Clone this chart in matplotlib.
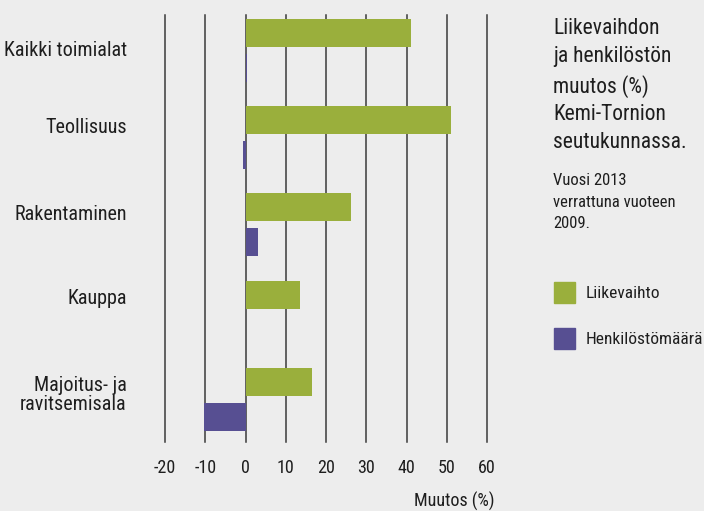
import matplotlib
matplotlib.use("Agg")
import matplotlib.pyplot as plt
from matplotlib.patches import Rectangle
import numpy as np

plt.rcParams['font.family'] = ['Roboto Condensed', 'DejaVu Sans']

categories = ["Kaikki toimialat", "Teollisuus", "Rakentaminen", "Kauppa",
              "Majoitus- ja\nravitsemisala"]
liikevaihto = [41.0, 51.0, 26.1, 13.5, 16.4]
henkilosto = [0.3, -0.7, 3.0, 0.0, -10.2]
xticks = [-20, -10, 0, 10, 20, 30, 40, 50, 60]

# vertical nudge of each category label (in group units)
label_dy = [0.2, 0.085, 0.08, 0.05, 0.15]

bg = "#ededed"
green = "#9aaf3c"
purple = "#574f92"
txt = "#1e1e1e"

W, H = 704, 511
fig = plt.figure(figsize=(W / 100, H / 100), dpi=100, facecolor=bg)

# axes box: x=-20 at 165px, x=60 at 487px; top 15px, bottom 442px
ax = fig.add_axes([165 / W, 1 - 442 / H, (487 - 165) / W, (442 - 15) / H])
ax.set_facecolor(bg)
ax.set_xlim(-20, 60)
# one group = 87.2 px, green bar centred at i, purple at i+0.4
ax.set_ylim((442 - 33) / 87.2, (15 - 33) / 87.2)

for s in ax.spines.values():
    s.set_visible(False)

for x in xticks:
    ax.axvline(x, color="#3a3a3a", lw=1.1, zorder=1, clip_on=False)

y = np.arange(len(categories))
ax.barh(y, liikevaihto, height=0.32, color=green, zorder=2)
ax.barh(y + 0.4, henkilosto, height=0.32, color=purple, zorder=2)

ax.set_yticks([])
ax.set_xticks(xticks)
ax.set_xticklabels([str(t) for t in xticks], fontsize=13, color=txt)
ax.tick_params(axis="x", length=0, pad=12)

for i, c in enumerate(categories):
    ax.text(-29.5, i + label_dy[i], c, ha="right", va="center", fontsize=14.5,
            color=txt, linespacing=1.0, clip_on=False)

fig.text(494 / W, 1 - 501 / H, "Muutos (%)", ha="right", va="center",
         fontsize=13, color=txt)

fig.text(553 / W, 1 - 18 / H,
         "Liikevaihdon\nja henkilöstön\nmuutos (%)\nKemi-Tornion\nseutukunnassa.",
         ha="left", va="top", fontsize=15.5, color=txt, linespacing=1.43)
fig.text(553 / W, 1 - 173 / H, "Vuosi 2013\nverrattuna vuoteen\n2009.",
         ha="left", va="top", fontsize=12, color=txt, linespacing=1.55)

for yy, col, lab in [(282, green, "Liikevaihto"), (328, purple, "Henkilöstömäärä")]:
    fig.patches.append(Rectangle((554 / W, 1 - (yy + 21) / H), 21 / W, 21 / H,
                                 transform=fig.transFigure, color=col))
    fig.text(586 / W, 1 - (yy + 11) / H, lab, ha="left", va="center",
             fontsize=12.5, color=txt)

fig.savefig("out.png", dpi=100, facecolor=bg)
